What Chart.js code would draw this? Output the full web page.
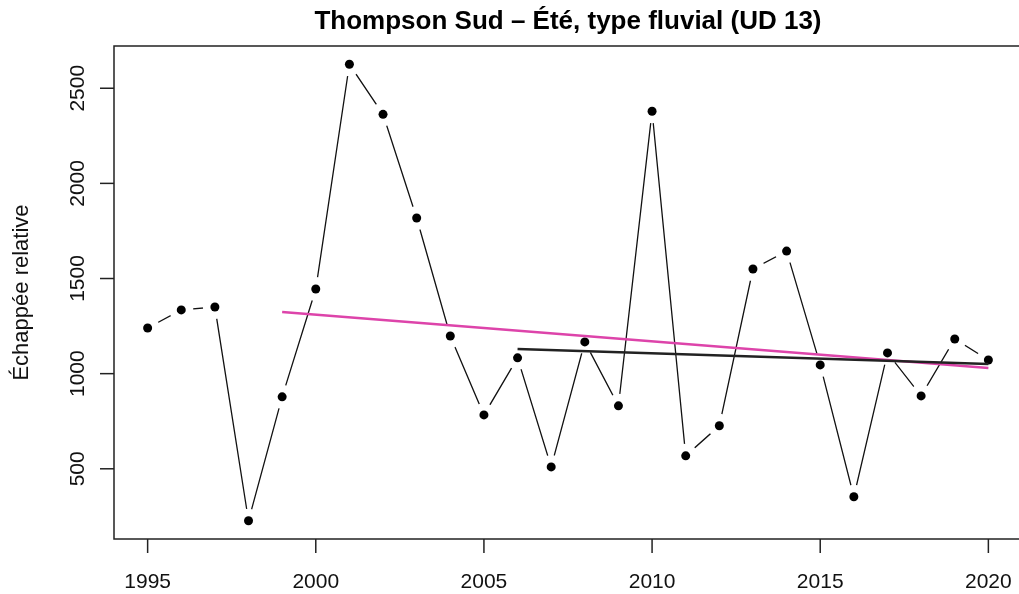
<!DOCTYPE html>
<html>
<head>
<meta charset="utf-8">
<script src="https://cdn.jsdelivr.net/npm/chart.js@4.4.1/dist/chart.umd.min.js"></script>
<style>
body{margin:0;background:#fff;overflow:hidden}
#wrap{width:1019px;height:594px;overflow:hidden}
</style>
</head>
<body>
<div id="wrap"><canvas id="c" width="1034" height="594"></canvas></div>
<script>
let years=[1995,1996,1997,1998,1999,2000,2001,2002,2003,2004,2005,2006,2007,2008,2009,2010,2011,2012,2013,2014,2015,2016,2017,2018,2019,2020]
let escapement=[1240,1335,1350,227,878,1445,2626,2363,1818,1198,783,1083,510,1167,831,2379,568,726,1550,1644,1046,353,1109,883,1182,1072]

let longTrendYears=[1999,2020]
let longTrendValues=[1324,1030]
let shortTrendYears=[2006,2020]
let shortTrendValues=[1129,1051]

let xTicks=[1995,2000,2005,2010,2015,2020]
let yTicks=[500,1000,1500,2000,2500]

let title="Thompson Sud – Été, type fluvial (UD 13)"
let yTitle="Échappée relative"

let font="'Liberation Sans', Arial, sans-serif"
let ink="#222"

function pts(xs,ys){
return xs.map((x,i)=>({x:x,y:ys[i]}))
}

/* R-style box, ticks and labels */
const rAxes={
id:"rAxes",
afterDraw(chart){
let ctx=chart.ctx
let a=chart.chartArea
let xs=chart.scales.x
let ys=chart.scales.y
ctx.save()
ctx.strokeStyle=ink
ctx.lineWidth=1.5
ctx.strokeRect(a.left,a.top,a.right-a.left,a.bottom-a.top)
ctx.fillStyle="#111"
ctx.font="21px "+font
ctx.textAlign="center"
ctx.textBaseline="alphabetic"
xTicks.forEach(v=>{
let px=xs.getPixelForValue(v)
ctx.beginPath()
ctx.moveTo(px,a.bottom)
ctx.lineTo(px,a.bottom+14)
ctx.stroke()
ctx.fillText(String(v),px,588)
})
yTicks.forEach(v=>{
let py=ys.getPixelForValue(v)
ctx.beginPath()
ctx.moveTo(a.left-14,py)
ctx.lineTo(a.left,py)
ctx.stroke()
ctx.save()
ctx.translate(84,py)
ctx.rotate(-Math.PI/2)
ctx.fillText(String(v),0,0)
ctx.restore()
})
ctx.save()
ctx.font="22px "+font
ctx.translate(28,(a.top+a.bottom)/2)
ctx.rotate(-Math.PI/2)
ctx.fillText(yTitle,0,0)
ctx.restore()
ctx.fillStyle="#000"
ctx.font="bold 26px "+font
ctx.fillText(title,(a.left+a.right)/2,29)
ctx.restore()
}
}

new Chart(document.getElementById("c"),{
type:"scatter",
data:{
datasets:[
{
data:pts(years,escapement),
showLine:true,
borderColor:"#111",
borderWidth:1.3,
pointRadius:0,
order:4
},
{
data:pts(years,escapement),
showLine:false,
pointRadius:12,
pointBackgroundColor:"#fff",
pointBorderWidth:0,
order:3
},
{
data:pts(years,escapement),
showLine:false,
pointRadius:4.5,
pointBackgroundColor:"#000",
pointBorderWidth:0,
order:2
},
{
data:pts(longTrendYears,longTrendValues),
showLine:true,
borderColor:"#dd44aa",
borderWidth:2.5,
pointRadius:0,
order:1
},
{
data:pts(shortTrendYears,shortTrendValues),
showLine:true,
borderColor:"#222",
borderWidth:2.5,
pointRadius:0,
order:0
}
]
},
options:{
responsive:false,
animation:false,
layout:{padding:{top:46,right:4,left:0,bottom:0}},
plugins:{legend:{display:false},tooltip:{enabled:false}},
scales:{
x:{
type:"linear",
min:1994,
max:2021,
grid:{display:false},
border:{display:false},
ticks:{display:false},
afterFit(s){s.height=55}
},
y:{
type:"linear",
min:131,
max:2722,
grid:{display:false},
border:{display:false},
ticks:{display:false},
afterFit(s){s.width=114}
}
}
},
plugins:[rAxes]
})
</script>
</body>
</html>
